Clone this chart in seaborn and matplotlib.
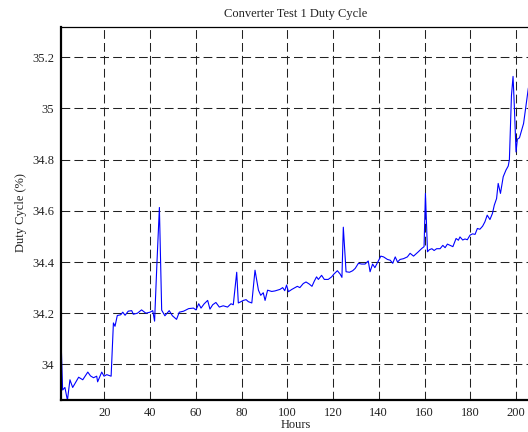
import matplotlib
matplotlib.use("Agg")
import matplotlib.pyplot as plt
import seaborn as sns
import pandas as pd

hours = [1.1, 1.8, 2.8, 3.9, 5.0, 6.2, 7.5, 8.8, 10.6, 12.8, 14.0, 15.3, 16.7, 17.1, 18.9, 19.9,
         21.1, 23.0, 24.0, 24.7, 25.7, 27.2, 28.1, 29.1, 30.5, 32.0, 32.7, 34.5, 36.3, 38.2, 40.0,
         41.2, 42.0, 43.0, 44.1, 45.1, 46.5, 48.4, 49.8, 51.6, 52.8, 54.7, 56.9, 59.0, 60.1, 61.3,
         62.3, 63.7, 65.2, 66.2, 67.4, 68.8, 70.3, 72.0, 73.9, 75.4, 76.4, 77.9, 78.6, 79.3, 80.8,
         82.0, 83.0, 84.5, 85.9, 87.4, 88.4, 89.5, 90.3, 91.4, 93.2, 94.6, 96.8, 98.0, 98.9, 99.7,
         100.5, 102.0, 103.4, 104.4, 105.5, 107.0, 108.2, 109.6, 110.8, 111.8, 112.8, 113.6, 115.0,
         116.2, 117.9, 119.4, 120.4, 121.9, 123.1, 123.9, 124.5, 125.7, 127.2, 128.6, 129.7, 131.1,
         132.5, 134.0, 135.4, 136.2, 137.3, 138.3, 139.8, 140.9, 142.1, 143.8, 145.0, 146.1, 147.2,
         148.2, 149.3, 150.8, 152.5, 153.7, 155.2, 157.3, 158.8, 159.8, 160.4, 161.3, 162.1, 163.2,
         164.2, 165.3, 166.8, 168.0, 169.0, 170.0, 171.2, 172.4, 173.8, 174.8, 175.5, 176.7, 177.7,
         178.7, 179.9, 181.0, 182.1, 183.1, 184.2, 185.4, 186.4, 187.4, 188.6, 189.7, 190.5, 191.5,
         192.2, 193.2, 194.4, 195.6, 196.6, 197.1, 198.0, 198.7, 199.3, 200.0, 200.6, 201.5, 203.3,
         204.7, 205.4]

duty = [34.10, 33.90, 33.91, 33.86, 33.94, 33.91, 33.93, 33.95, 33.94, 33.97, 33.955, 33.948,
        33.954, 33.932, 33.970, 33.954, 33.96, 33.954, 34.162, 34.149, 34.191, 34.194, 34.204,
        34.192, 34.208, 34.21, 34.196, 34.20, 34.213, 34.20, 34.204, 34.21, 34.169, 34.39, 34.613,
        34.212, 34.19, 34.21, 34.19, 34.176, 34.204, 34.208, 34.218, 34.22, 34.213, 34.237, 34.22,
        34.237, 34.25, 34.216, 34.233, 34.242, 34.224, 34.229, 34.224, 34.237, 34.233, 34.36,
        34.24, 34.243, 34.25, 34.253, 34.245, 34.24, 34.368, 34.29, 34.27, 34.28, 34.25, 34.29,
        34.285, 34.287, 34.293, 34.30, 34.288, 34.31, 34.284, 34.293, 34.30, 34.305, 34.30, 34.316,
        34.322, 34.314, 34.305, 34.325, 34.342, 34.332, 34.348, 34.332, 34.332, 34.342, 34.353,
        34.366, 34.353, 34.34, 34.536, 34.362, 34.36, 34.366, 34.375, 34.395, 34.392, 34.392,
        34.404, 34.362, 34.392, 34.378, 34.404, 34.423, 34.42, 34.41, 34.407, 34.395, 34.42, 34.40,
        34.41, 34.413, 34.42, 34.434, 34.423, 34.44, 34.453, 34.46, 34.668, 34.44, 34.448, 34.452,
        34.445, 34.452, 34.452, 34.465, 34.456, 34.47, 34.465, 34.46, 34.492, 34.485, 34.498,
        34.486, 34.49, 34.487, 34.505, 34.51, 34.508, 34.531, 34.528, 34.54, 34.557, 34.583,
        34.566, 34.59, 34.622, 34.648, 34.707, 34.668, 34.733, 34.759, 34.775, 34.80, 35.05,
        35.125, 35.0, 34.83, 34.88, 34.885, 34.941, 35.032, 35.08]

x_ticks = [20, 40, 60, 80, 100, 120, 140, 160, 180, 200]
y_ticks = [34.0, 34.2, 34.4, 34.6, 34.8, 35.0, 35.2]
y_tick_labels = ["34", "34.2", "34.4", "34.6", "34.8", "35", "35.2"]

sns.set_theme(style="white")
plt.rcParams["font.family"] = ["Liberation Serif", "DejaVu Serif"]
plt.rcParams["lines.scale_dashes"] = False

df = pd.DataFrame({"Hours": hours, "Duty": duty})

fig = plt.figure(figsize=(5.28, 4.32), dpi=100)
W, H = 528, 432
left_px, right_px, top_px, bot_px = 61, 61 + 477.9, 27, 400
ax = fig.add_axes([left_px / W, 1 - bot_px / H, (right_px - left_px) / W, (bot_px - top_px) / H])

sns.lineplot(data=df, x="Hours", y="Duty", ax=ax, color="#0000ff", linewidth=0.8, sort=False)

ax.set_xlim(1.09, 210)
ax.set_ylim(33.861, 35.318)
ax.set_xticks(x_ticks)
ax.set_xticklabels([str(t) for t in x_ticks])
ax.set_yticks(y_ticks)
ax.set_yticklabels(y_tick_labels)

ax.grid(True, color="#222222", linestyle=(0, (6.3, 3.0)), linewidth=0.75)
ax.tick_params(axis="both", direction="in", length=3, width=0.8, colors="black",
               labelsize=9, pad=5, labelcolor="#222222")
for side in ["left", "bottom"]:
    ax.spines[side].set_linewidth(1.6)
    ax.spines[side].set_color("black")
ax.spines["top"].set_linewidth(0.9)
ax.spines["top"].set_color("black")
ax.spines["right"].set_visible(False)

ax.set_xlabel("")
ax.set_ylabel("")
fig.text(296 / W, 1 - 14 / H, "Converter Test 1 Duty Cycle", ha="center", va="center",
         fontsize=9, color="#222222")
fig.text(296 / W, 1 - 425 / H, "Hours", ha="center", va="center", fontsize=9, color="#222222")
fig.text(21 / W, 1 - 213 / H, "Duty Cycle (%)", ha="center", va="center", rotation=90,
         fontsize=9, color="#222222")

fig.savefig("out.png", dpi=100)
